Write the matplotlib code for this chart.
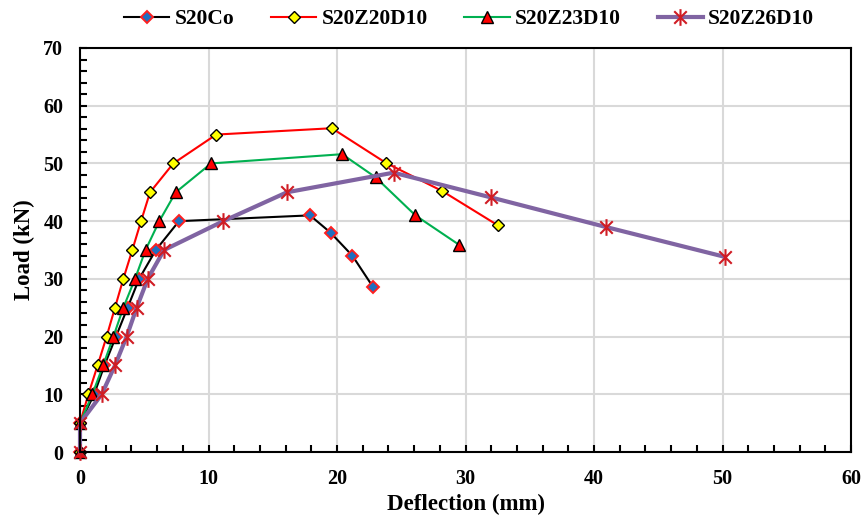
import matplotlib
matplotlib.use('Agg')
import matplotlib.pyplot as plt
from matplotlib.path import Path
from matplotlib.ticker import MultipleLocator

# Data
co_x = [0, 0, 1.1, 1.9, 2.8, 3.7, 4.6, 5.9, 7.7, 17.9, 19.5, 21.2, 22.8]
co_y = [0, 5, 10, 15, 20, 25, 30, 35, 40, 41.0, 38.0, 34.0, 28.6]

z20_x = [0, 0, 0.65, 1.37, 2.07, 2.72, 3.37, 4.07, 4.75, 5.45, 7.26, 10.6, 19.6, 23.8, 28.2, 32.5]
z20_y = [0, 5, 10, 15, 20, 25, 30, 35, 40, 45, 50, 55, 56.1, 50.1, 45.2, 39.3]

z23_x = [0, 0, 0.96, 1.8, 2.6, 3.37, 4.28, 5.1, 6.17, 7.45, 10.2, 20.4, 23.0, 26.1, 29.5]
z23_y = [0, 5, 10, 15, 20, 25, 30, 35, 40, 45, 50, 51.6, 47.6, 41.0, 35.9]

z26_x = [0, 0, 1.69, 2.72, 3.63, 4.41, 5.27, 6.54, 11.15, 16.1, 24.4, 32.0, 40.9, 50.2]
z26_y = [0, 5, 10, 15, 20, 25, 30, 35, 40, 45, 48.4, 44.1, 39.0, 33.8]

labels = ['S20Co', 'S20Z20D10', 'S20Z23D10', 'S20Z26D10']

plt.rcParams['font.family'] = ['Liberation Serif', 'DejaVu Serif']
plt.rcParams['font.weight'] = 'bold'

# excel-like asterisk: vertical bar plus an X
star = Path([(0, -1), (0, 1), (-0.75, -0.75), (0.75, 0.75), (-0.75, 0.75), (0.75, -0.75)],
            [Path.MOVETO, Path.LINETO, Path.MOVETO, Path.LINETO, Path.MOVETO, Path.LINETO])

fig = plt.figure(figsize=(8.64, 5.15), dpi=100)
ax = fig.add_axes([0.0926, 0.1223, 0.8924, 0.7845])

ax.plot(co_x, co_y, color='black', lw=1.5, marker='D', ms=6.5,
        mfc='#1F6FC0', mec='#FF2020', mew=1.4, label=labels[0], clip_on=False)
ax.plot(z20_x, z20_y, color='#FF0000', lw=1.5, marker='D', ms=6.5,
        mfc='#FFFF00', mec='black', mew=1.0, label=labels[1], clip_on=False)
ax.plot(z23_x, z23_y, color='#00B050', lw=1.5, marker='^', ms=9,
        mfc='#FF0000', mec='black', mew=1.0, label=labels[2], clip_on=False)
ax.plot(z26_x, z26_y, color='#8064A2', lw=3, marker=star, ms=12,
        mec='#D01C24', mew=1.5, label=labels[3], clip_on=False)

ax.set_xlim(0, 60)
ax.set_ylim(0, 70)
ax.xaxis.set_major_locator(MultipleLocator(10))
ax.yaxis.set_major_locator(MultipleLocator(10))
ax.xaxis.set_minor_locator(MultipleLocator(2))
ax.yaxis.set_minor_locator(MultipleLocator(2))
ax.grid(True, which='major', color='#D9D9D9', lw=1.5)
ax.set_axisbelow(True)
ax.tick_params(which='both', direction='in', width=1.5, length=5, labelsize=14.5, pad=12)
for s in ax.spines.values():
    s.set_linewidth(1.5)
    s.set_color('black')

ax.set_xlabel('Deflection (mm)', fontsize=16.5, fontweight='bold', labelpad=4)
ax.set_ylabel('Load (kN)', fontsize=16.5, fontweight='bold', labelpad=6)

fig.legend(loc='center', bbox_to_anchor=(0.543, 0.963), ncol=4, frameon=False,
           handlelength=2.1, columnspacing=1.7, handletextpad=0.25,
           prop={'family': 'Liberation Serif', 'weight': 'bold', 'size': 15.5})

fig.savefig('out.png', dpi=100)
